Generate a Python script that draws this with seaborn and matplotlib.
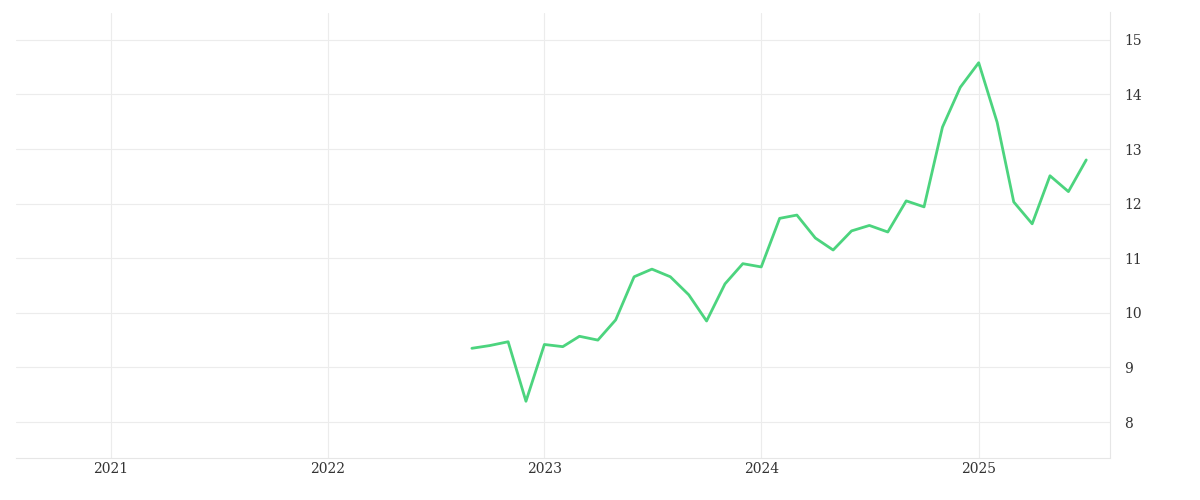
import pandas as pd
import numpy as np
import matplotlib.pyplot as plt
import matplotlib.dates as mdates
import seaborn as sns

# monthly values, Sep 2022 .. Jul 2025
start_month = '2022-09-01'
values = [9.35, 9.40, 9.47, 8.38, 9.42, 9.38, 9.57, 9.50, 9.87, 10.66, 10.80, 10.66,
          10.33, 9.85, 10.53, 10.90, 10.84, 11.73, 11.79, 11.37, 11.15, 11.50, 11.60,
          11.48, 12.05, 11.94, 13.40, 14.13, 14.58, 13.49, 12.03, 11.63, 12.51, 12.22, 12.80]
year_ticks = ['2021', '2022', '2023', '2024', '2025']
y_ticks = [8, 9, 10, 11, 12, 13, 14, 15]

df = pd.DataFrame({'date': pd.date_range(start_month, periods=len(values), freq='MS'),
                   'value': values})

sns.set_style('white')
fig, ax = plt.subplots(figsize=(12, 5), dpi=100)
fig.subplots_adjust(left=0.013, right=0.925, top=0.975, bottom=0.085)

sns.lineplot(data=df, x='date', y='value', ax=ax, color='#4cd47e', linewidth=2)

ax.set_xlim(pd.Timestamp('2020-07-25'), pd.Timestamp('2025-08-10'))
ax.set_ylim(7.35, 15.5)
ax.set_xticks([pd.Timestamp(f'{y}-01-01') for y in year_ticks])
ax.set_xticklabels(year_ticks)
ax.set_yticks(y_ticks)
ax.yaxis.tick_right()
ax.grid(True, color='#ececec', linewidth=0.8)
ax.set_xlabel('')
ax.set_ylabel('')
for s in ['top', 'left']:
    ax.spines[s].set_visible(False)
ax.spines['bottom'].set_color('#e6e6e6')
ax.spines['right'].set_color('#e6e6e6')
ax.tick_params(length=0, labelsize=10, colors='#333333')
for lbl in ax.get_xticklabels() + ax.get_yticklabels():
    lbl.set_fontfamily('DejaVu Serif')
ax.tick_params(axis='y', pad=10)

fig.savefig('out.png')
